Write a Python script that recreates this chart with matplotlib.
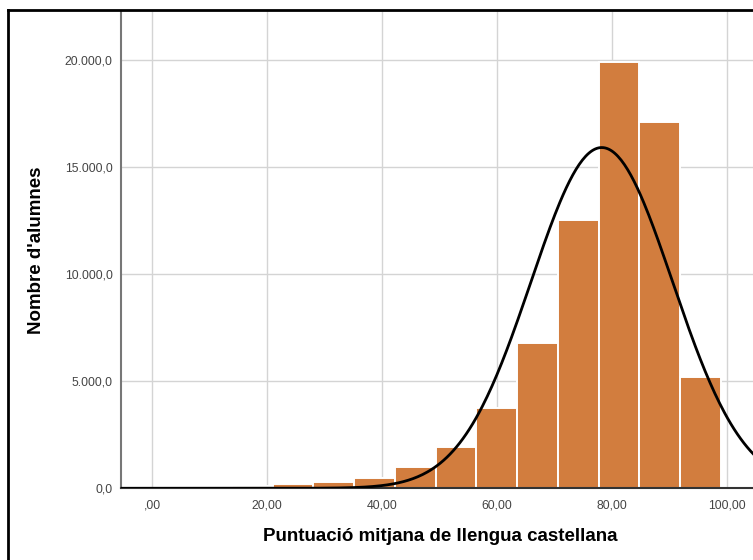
import numpy as np
import matplotlib
matplotlib.use('Agg')
import matplotlib.pyplot as plt
from matplotlib.lines import Line2D

plt.rcParams['font.family'] = ['Liberation Sans', 'DejaVu Sans']

# Histogram bins (left edges) and counts
bin_left = [-0.3, 6.79, 13.87, 20.96, 28.04, 35.13, 42.22, 49.3, 56.39, 63.47, 70.56, 77.65, 84.73, 91.82]
bin_width = 7.086
counts = [10, 30, 100, 190, 280, 470, 1010, 1920, 3730, 6790, 12540, 19900, 17100, 5200]

# Normal curve parameters
mean_score = 78.2
sd_score = 12.3

x_ticks = [0, 20, 40, 60, 80, 100]
x_tick_labels = [',00', '20,00', '40,00', '60,00', '80,00', '100,00']
y_ticks = [0, 5000, 10000, 15000, 20000]
y_tick_labels = ['0,0', '5.000,0', '10.000,0', '15.000,0', '20.000,0']

fig = plt.figure(figsize=(7.53, 5.60), dpi=100)
ax = fig.add_axes([121 / 753, 1 - 488.3 / 560, 1 - 121 / 753, (488.3 - 11) / 560])

ax.bar(bin_left, counts, width=bin_width, align='edge', color='#D27D3E',
       edgecolor='white', linewidth=1.4, zorder=2)

n_total = sum(counts)
xs = np.linspace(-6, 106, 400)
ys = n_total * bin_width / (sd_score * np.sqrt(2 * np.pi)) * np.exp(-0.5 * ((xs - mean_score) / sd_score) ** 2)
ax.plot(xs, ys, color='black', linewidth=2.0, zorder=3)

ax.set_xlim(-5.4, 104.5)
ax.set_ylim(0, 22300)
ax.set_xticks(x_ticks)
ax.set_xticklabels(x_tick_labels)
ax.set_yticks(y_ticks)
ax.set_yticklabels(y_tick_labels)
ax.tick_params(length=0, labelsize=8.8, labelcolor='#444444')
ax.tick_params(axis='y', pad=6)
ax.tick_params(axis='x', pad=8)
ax.grid(True, color='#d4d4d4', linewidth=1.0, zorder=0)
ax.set_axisbelow(True)

for side in ['top', 'right']:
    ax.spines[side].set_visible(False)
ax.spines['left'].set_color('#777777')
ax.spines['left'].set_linewidth(1.5)
ax.spines['bottom'].set_color('#333333')
ax.spines['bottom'].set_linewidth(1.5)

ax.set_xlabel('Puntuació mitjana de llengua castellana', fontsize=13.5, fontweight='bold')
ax.set_ylabel("Nombre d'alumnes", fontsize=13.5, fontweight='bold')
ax.xaxis.set_label_coords(0.505, -0.102)
ax.yaxis.set_label_coords(-0.133, 0.499)
ax.xaxis.label.set_va('center')
ax.yaxis.label.set_va('center')

# Outer frame (left and top lines)
fig.add_artist(Line2D([7.5 / 753, 7.5 / 753], [0, 1 - 9.5 / 560], color='black', linewidth=2, transform=fig.transFigure))
fig.add_artist(Line2D([7.5 / 753, 1], [1 - 9.5 / 560, 1 - 9.5 / 560], color='black', linewidth=2, transform=fig.transFigure))

plt.savefig('out.png', dpi=100)
